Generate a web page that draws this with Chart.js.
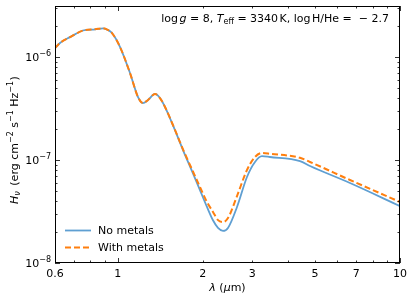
<!DOCTYPE html>
<html>
<head>
<meta charset="utf-8">
<script src="https://cdn.jsdelivr.net/npm/chart.js@4"></script>
<style>
  html, body { margin: 0; padding: 0; background: #fff; }
  #wrap { width: 415px; height: 302px; }
</style>
</head>
<body>
<div id="wrap"><canvas id="sed" width="415" height="302"></canvas></div>
<script>
// Longitudes de onda (micras) y flujos
const lambda = [0.6, 0.625, 0.678, 0.754, 0.832, 0.887, 0.925, 0.955, 1.02, 1.106, 1.18, 1.229, 1.281, 1.356, 1.412, 1.472, 1.596, 1.704, 1.834, 1.957, 2.072, 2.176, 2.267, 2.361, 2.459, 2.647, 2.871, 3.065, 3.245, 3.463, 4.424, 4.8, 6.65, 10];
const noMetals = [1.22e-6, 1.37e-6, 1.56e-6, 1.81e-6, 1.86e-6, 1.9e-6, 1.83e-6, 1.71e-6, 1.25e-6, 7.0e-7, 4.1e-7, 3.57e-7, 3.83e-7, 4.38e-7, 4.0e-7, 3.27e-7, 1.95e-7, 1.25e-7, 7.8e-8, 5.1e-8, 3.5e-8, 2.6e-8, 2.19e-8, 2.05e-8, 2.19e-8, 3.5e-8, 6.84e-8, 9.57e-8, 1.09e-7, 1.07e-7, 9.77e-8, 8.74e-8, 5.98e-8, 3.57e-8];
const withMetals = [1.22e-6, 1.37e-6, 1.56e-6, 1.81e-6, 1.86e-6, 1.9e-6, 1.83e-6, 1.71e-6, 1.25e-6, 7.0e-7, 4.1e-7, 3.57e-7, 3.83e-7, 4.38e-7, 4.0e-7, 3.27e-7, 1.96e-7, 1.27e-7, 8.1e-8, 5.47e-8, 3.91e-8, 3.13e-8, 2.61e-8, 2.5e-8, 2.73e-8, 4.47e-8, 8.0e-8, 1.07e-7, 1.17e-7, 1.15e-7, 1.05e-7, 9.57e-8, 6.4e-8, 3.91e-8];

const xTickLabels = ["0.6", "1", "2", "3", "5", "7", "10"];
const xMajor = [1, 10];
const xMinor = [0.6, 0.7, 0.8, 0.9, 2, 3, 4, 5, 6, 7, 8, 9];
const yMajor = [1e-8, 1e-7, 1e-6];
const yTickExp = ["−8", "−7", "−6"];
const seriesNames = ["No metals", "With metals"];

const FONT = "'DejaVu Sans', sans-serif";
const BLUE = "#5f9fd2";
const ORANGE = "#ff7f0e";

const toXY = (ys) => lambda.map((x, i) => ({ x, y: ys[i] }));

// texto con partes en cursiva, subíndices y superíndices
function richWidth(ctx, parts) {
  let w = 0;
  for (const p of parts) {
    ctx.font = (p.it ? "italic " : "") + (p.size || 11) + "px " + FONT;
    w += ctx.measureText(p.t).width + (p.gap || 0);
  }
  return w;
}
function drawRich(ctx, parts, x, y, align) {
  const w = richWidth(ctx, parts);
  let cx = align === "right" ? x - w : align === "center" ? x - w / 2 : x;
  ctx.textAlign = "left";
  ctx.textBaseline = "alphabetic";
  for (const p of parts) {
    ctx.font = (p.it ? "italic " : "") + (p.size || 11) + "px " + FONT;
    ctx.fillText(p.t, cx, y + (p.dy || 0));
    cx += ctx.measureText(p.t).width + (p.gap || 0);
  }
}

const axesPlugin = {
  id: "axesPlugin",
  afterDraw(chart) {
    const { ctx, chartArea: a, scales } = chart;
    const sx = scales.x, sy = scales.y;
    ctx.save();
    ctx.fillStyle = "#000";
    ctx.strokeStyle = "#000";

    // marco
    ctx.lineWidth = 1;
    ctx.strokeRect(a.left + 0.5, a.top + 0.5, a.right - a.left - 1, a.bottom - a.top - 1);

    // marcas hacia dentro en los cuatro lados
    const tick = (x1, y1, x2, y2) => {
      ctx.beginPath(); ctx.moveTo(x1, y1); ctx.lineTo(x2, y2); ctx.stroke();
    };
    ctx.lineWidth = 0.8;
    const xt = xMajor.map((v) => [v, 5]).concat(xMinor.map((v) => [v, 2.5]));
    xt.forEach(([v, len]) => {
      const px = Math.round(sx.getPixelForValue(v)) + 0.5;
      tick(px, a.bottom, px, a.bottom - len);
      tick(px, a.top, px, a.top + len);
    });
    const yt = [];
    yMajor.forEach((v) => yt.push([v, 5]));
    [1e-8, 1e-7, 1e-6].forEach((d) => {
      for (let m = 2; m <= 9; m++) yt.push([d * m, 2.5]);
    });
    yt.forEach(([v, len]) => {
      if (v < sy.min || v > sy.max) return;
      const py = Math.round(sy.getPixelForValue(v)) + 0.5;
      tick(a.left, py, a.left + len, py);
      tick(a.right, py, a.right - len, py);
    });

    // etiquetas de los ejes
    ctx.font = "11px " + FONT;
    ctx.textAlign = "center";
    ctx.textBaseline = "alphabetic";
    xTickLabels.forEach((lab) => {
      const px = sx.getPixelForValue(Number(lab));
      ctx.fillText(lab, px, a.bottom + 14);
    });
    yMajor.forEach((v, i) => {
      const py = sy.getPixelForValue(v);
      drawRich(ctx, [{ t: "10" }, { t: yTickExp[i], size: 8, dy: -5 }], a.left - 4, py + 4, "right");
    });

    // títulos
    drawRich(ctx, [{ t: "λ", it: true }, { t: " (" }, { t: "μ", it: true }, { t: "m)" }], (a.left + a.right) / 2, 291, "center");

    ctx.save();
    ctx.translate(18, 140);
    ctx.rotate(-Math.PI / 2);
    drawRich(ctx, [
      { t: "H", it: true }, { t: "ν", it: true, size: 8, dy: 2, gap: 2 },
      { t: " (erg", gap: 3.5 }, { t: "cm" }, { t: "−2", size: 8, dy: -5, gap: 3.5 },
      { t: "s" }, { t: "−1", size: 8, dy: -5, gap: 3.5 },
      { t: "Hz" }, { t: "−1", size: 8, dy: -5, gap: 0.5 }, { t: ")" }
    ], 0, 0, "center");
    ctx.restore();

    // anotación
    drawRich(ctx, [
      { t: "log", gap: 1.5 }, { t: "g", it: true }, { t: " = 8, " },
      { t: "T", it: true }, { t: "eff", size: 8, dy: 2 }, { t: " = 3340", gap: 1.5 },
      { t: "K, log", gap: 1.5 }, { t: "H/He =  − 2.7" }
    ], 389, 22, "right");

    // leyenda
    const ds = chart.data.datasets;
    const rows = [[ds[0], 230], [ds[1], 247]];
    rows.forEach(([d, y]) => {
      ctx.save();
      ctx.strokeStyle = d.borderColor;
      ctx.lineWidth = d.borderWidth;
      ctx.setLineDash(d.borderDash || []);
      tick(65, y + 0.5, 91, y + 0.5);
      ctx.restore();
      ctx.font = "11px " + FONT;
      ctx.textAlign = "left";
      ctx.fillText(d.label, 98, y + 4);
    });
    ctx.restore();
  }
};

new Chart(document.getElementById("sed"), {
  type: "line",
  data: {
    datasets: [
      {
        label: seriesNames[0],
        data: toXY(noMetals),
        borderColor: BLUE,
        borderWidth: 1.8,
        pointRadius: 0,
        cubicInterpolationMode: "monotone",
        order: 1,
      },
      {
        label: seriesNames[1],
        data: toXY(withMetals),
        borderColor: ORANGE,
        borderWidth: 2,
        borderDash: [6, 3],
        pointRadius: 0,
        cubicInterpolationMode: "monotone",
        order: 0,
      },
    ],
  },
  options: {
    responsive: false,
    animation: false,
    layout: { padding: { left: 55, top: 6, right: 15, bottom: 39 } },
    plugins: { legend: { display: false }, tooltip: { enabled: false } },
    scales: {
      x: { type: "logarithmic", min: 0.6, max: 10, display: false },
      y: { type: "logarithmic", min: 1e-8, max: 3.13e-6, display: false },
    },
  },
  plugins: [axesPlugin],
});
</script>
</body>
</html>
